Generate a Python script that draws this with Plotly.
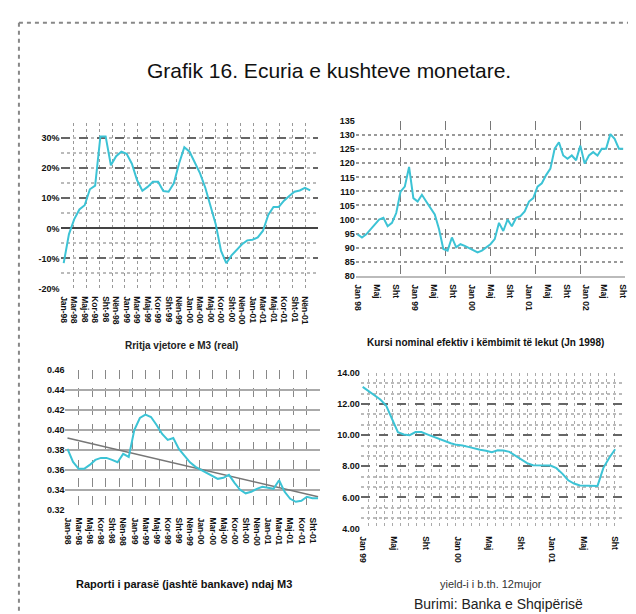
import numpy as np
import plotly.graph_objects as go

# ---------------- data ----------------
m3_growth = [-11.6, -2.0, 3.0, 6.3, 7.7, 13.0, 14.2, 30.6, 30.6, 21.0, 24.0, 25.5,
             24.8, 21.5, 16.0, 12.5, 13.8, 15.5, 15.5, 12.4, 12.2, 15.0, 21.6, 27.0,
             25.5, 22.0, 18.3, 13.5, 7.0, 1.3, -7.5, -11.6, -9.0, -7.0, -5.3, -4.0,
             -3.8, -3.0, -0.8, 4.5, 7.1, 7.1, 9.2, 10.8, 12.2, 12.6, 13.5, 12.6]
m3_labels = ["Jan-98", "Mar-98", "Maj-98", "Kor-98", "Sht-98", "Nën-98",
             "Jan-99", "Mar-99", "Maj-99", "Kor-99", "Sht-99", "Nën-99",
             "Jan-00", "Mar-00", "Maj-00", "Kor-00", "Sht-00", "Nën-00",
             "Jan-01", "Mar-01", "Maj-01", "Kor-01", "Sht-01", "Nën-01"]
m3_ticks = [-20, -10, 0, 10, 20, 30]
m3_ticktext = ["-20%", "-10%", "0%", "10%", "20%", "30%"]

neer = [94.7, 93.6, 94.7, 96.5, 98.2, 100.0, 100.6, 97.6, 98.8, 102.3, 109.9, 111.7,
        118.7, 107.6, 106.4, 108.8, 106.4, 104.1, 101.8, 96.5, 89.5, 88.9, 93.6, 90.1,
        91.2, 90.6, 89.8, 88.9, 88.3, 88.9, 90.1, 91.2, 93.0, 98.8, 95.9, 100.0,
        97.6, 100.6, 101.2, 102.9, 106.4, 107.6, 111.7, 112.9, 115.8, 118.1, 125.2,
        127.5, 122.8, 121.6, 122.8, 121.1, 126.3, 119.9, 122.8, 124.0, 122.8, 125.2,
        125.2, 130.4, 128.7, 125.2, 125.2]
neer_labels = ["Jan 98", "Maj", "Sht", "Jan 99", "Maj", "Sht", "Jan 00", "Maj", "Sht",
               "Jan 01", "Maj", "Sht", "Jan 02", "Maj", "Sht"]

cash_ratio = [0.381, 0.368, 0.361, 0.361, 0.365, 0.370, 0.372, 0.372, 0.370, 0.3676,
              0.376, 0.373, 0.400, 0.412, 0.4153, 0.413, 0.405, 0.396, 0.390, 0.392,
              0.381, 0.374, 0.3676, 0.363, 0.360, 0.357, 0.354, 0.351, 0.352, 0.355,
              0.347, 0.340, 0.3365, 0.338, 0.341, 0.343, 0.342, 0.341, 0.3496, 0.338,
              0.331, 0.328, 0.329, 0.333, 0.3315, 0.3315]
cash_trend = [0.392, 0.333]
cash_labels = ["Jan-98", "Mar-98", "Maj-98", "Kor-98", "Sht-98", "Nën-98",
               "Jan-99", "Mar-99", "Maj-99", "Kor-99", "Sht-99", "Nën-99",
               "Jan-00", "Mar-00", "Maj-00", "Kor-00", "Sht-00", "Nën-00",
               "Jan-01", "Mar-01", "Maj-01", "Kor-01", "Sht-01"]

tbill = [13.11, 12.85, 12.55, 12.3, 11.9, 11.05, 10.2, 10.05, 10.0, 10.2, 10.2, 10.05,
         9.9, 9.78, 9.62, 9.48, 9.38, 9.34, 9.25, 9.14, 9.06, 9.0, 8.91, 9.03, 9.02,
         8.93, 8.7, 8.45, 8.2, 8.07, 8.05, 8.05, 8.05, 7.88, 7.53, 7.1, 6.89, 6.76,
         6.74, 6.74, 6.74, 7.9, 8.55, 9.1]
tbill_labels = ["Jan 99", "Maj", "Sht", "Jan 00", "Maj", "Sht", "Jan 01", "Maj", "Sht"]

# ---------------- helpers ----------------
W, H = 636, 614
def fx(p):
    return p / W
def fy(p):
    return 1 - p / H

LINE = dict(color="#3cc3d5", width=2)
TFONT = dict(family="Liberation Sans", size=9, color="#111", weight="bold")
XFONT = dict(family="Liberation Sans", size=8.5, color="#111", weight="bold")

fig = go.Figure()
xa = list(range(len(m3_growth)))
fig.add_trace(go.Scatter(x=xa, y=m3_growth, mode="lines", line=LINE, xaxis="x", yaxis="y"))
xb = list(range(len(neer)))
fig.add_trace(go.Scatter(x=xb, y=neer, mode="lines", line=LINE, xaxis="x2", yaxis="y2"))
xc = list(range(len(cash_ratio)))
fig.add_trace(go.Scatter(x=[0, len(cash_ratio) - 1], y=cash_trend, mode="lines",
                         line=dict(color="#777", width=1.5), xaxis="x3", yaxis="y3"))
fig.add_trace(go.Scatter(x=xc, y=cash_ratio, mode="lines", line=LINE, xaxis="x3", yaxis="y3"))
xd = list(range(len(tbill)))
fig.add_trace(go.Scatter(x=xd, y=tbill, mode="lines", line=LINE, xaxis="x4", yaxis="y4"))

def xaxis_cfg(domain, rng, tickvals, ticktext, ngrid, gcolor, gdash, angle=90):
    return dict(domain=domain, range=rng, tickmode="array", tickvals=tickvals,
                ticktext=ticktext, tickangle=angle, tickfont=XFONT, showgrid=False,
                zeroline=False, showline=False, ticks="outside", ticklen=5,
                tickcolor="rgba(0,0,0,0)",
                minor=dict(showgrid=True, tickmode="linear", tick0=rng[0],
                           dtick=(rng[1] - rng[0]) / ngrid, gridcolor=gcolor,
                           griddash=gdash, gridwidth=1, ticklen=0))

# A
ra = [-0.6, len(m3_growth) - 1 + 1.5]
xaxis1 = xaxis_cfg([fx(50), fx(310)], ra, list(range(0, len(m3_growth), 2)), m3_labels,
                   20, "#999", "dot")
yaxis1 = dict(domain=[fy(280), fy(112)], range=[-20, 35], tickmode="array",
              tickvals=m3_ticks, ticktext=m3_ticktext, tickfont=TFONT,
              showgrid=True, gridcolor="#666", griddash="dash", gridwidth=1.5,
              zeroline=True, zerolinecolor="#444", zerolinewidth=1.5,
              minor=dict(showgrid=True, dtick=5, gridcolor="#bbb", griddash="dot"),
              anchor="x", ticks="")
xaxis1["anchor"] = "y"

# B
rb = [-0.46, len(neer) - 1 + 0.46]
xaxis2 = xaxis_cfg([fx(348), fx(620)], rb, list(np.linspace(0, len(neer) - 1, len(neer_labels))),
                   neer_labels, 6, "#777", "dash")
xaxis2.update(anchor="y2", showline=True, linecolor="#bbb", linewidth=2)
yaxis2 = dict(domain=[fy(267), fy(110)], range=[80, 135], dtick=5, tickfont=TFONT,
              showgrid=True, gridcolor="#999", griddash="dot", gridwidth=1.5,
              zeroline=False, anchor="x2", ticks="")

# C
rc = [-0.36, len(cash_ratio) - 1 + 0.36]
xaxis3 = xaxis_cfg([fx(55), fx(312)], rc, list(range(0, len(cash_ratio), 2)), cash_labels,
                   19, "#888", "dash")
xaxis3["anchor"] = "y3"
yaxis3 = dict(domain=[fy(505), fy(363)], range=[0.32, 0.46], dtick=0.02, tickformat=".2f",
              tickfont=TFONT, showgrid=True, gridcolor="#aaa", griddash="solid",
              gridwidth=1.5, zeroline=False, anchor="x3", ticks="")

# D
rd = [-0.34, len(tbill) - 1 + 1.2]
xaxis4 = xaxis_cfg([fx(353), fx(617)], rd, list(np.linspace(0, len(tbill) - 1, len(tbill_labels))),
                   tbill_labels, 33, "#aaa", "dot")
xaxis4["anchor"] = "y4"
yaxis4 = dict(domain=[fy(524), fy(366)], range=[4, 14], dtick=2, tickformat=".2f",
              tickfont=TFONT, showgrid=True, gridcolor="#666", griddash="dash",
              gridwidth=1.5, zeroline=False, anchor="x4", ticks="",
              minor=dict(showgrid=True, dtick=2 / 3, gridcolor="#bbb", griddash="dot"))

annotations = [
    dict(text="Grafik 16. Ecuria e kushteve monetare.", x=fx(321), y=fy(58),
         font=dict(family="Liberation Sans", size=21, color="#111")),
    dict(text="Rritja vjetore e M3 (real)", x=fx(172), y=fy(338),
         font=dict(family="Liberation Sans", size=10, color="#222", weight="bold")),
    dict(text="Kursi nominal efektiv i këmbimit të lekut (Jn 1998)", x=fx(479), y=fy(335),
         font=dict(family="Liberation Sans", size=10, color="#111", weight="bold")),
    dict(text="Raporti i parasë (jashtë bankave) ndaj M3", x=fx(175), y=fy(580),
         font=dict(family="Liberation Sans", size=11, color="#111", weight="bold")),
    dict(text="yield-i i b.th. 12mujor", x=fx(485), y=fy(580),
         font=dict(family="Liberation Sans", size=11, color="#333")),
    dict(text="Burimi: Banka e Shqipërisë", x=fx(405), y=fy(601), xanchor="left",
         font=dict(family="Liberation Sans", size=14, color="#222")),
]
for a in annotations:
    a.update(xref="paper", yref="paper", showarrow=False)
    a.setdefault("xanchor", "center")
    a.setdefault("yanchor", "middle")

shapes = [
    dict(type="line", xref="paper", yref="paper", x0=fx(8), x1=1, y0=fy(10), y1=fy(10),
         line=dict(color="#888", width=2, dash="4px,4px")),
    dict(type="line", xref="paper", yref="paper", x0=fx(8), x1=fx(8), y0=fy(10), y1=0,
         line=dict(color="#888", width=2, dash="4px,4px")),
]

fig.update_layout(
    width=W, height=H, autosize=False,
    margin=dict(l=0, r=0, t=0, b=0),
    paper_bgcolor="white", plot_bgcolor="white",
    showlegend=False,
    xaxis=xaxis1, yaxis=yaxis1,
    xaxis2=xaxis2, yaxis2=yaxis2,
    xaxis3=xaxis3, yaxis3=yaxis3,
    xaxis4=xaxis4, yaxis4=yaxis4,
    annotations=annotations, shapes=shapes,
)

fig.write_html("out.html")
